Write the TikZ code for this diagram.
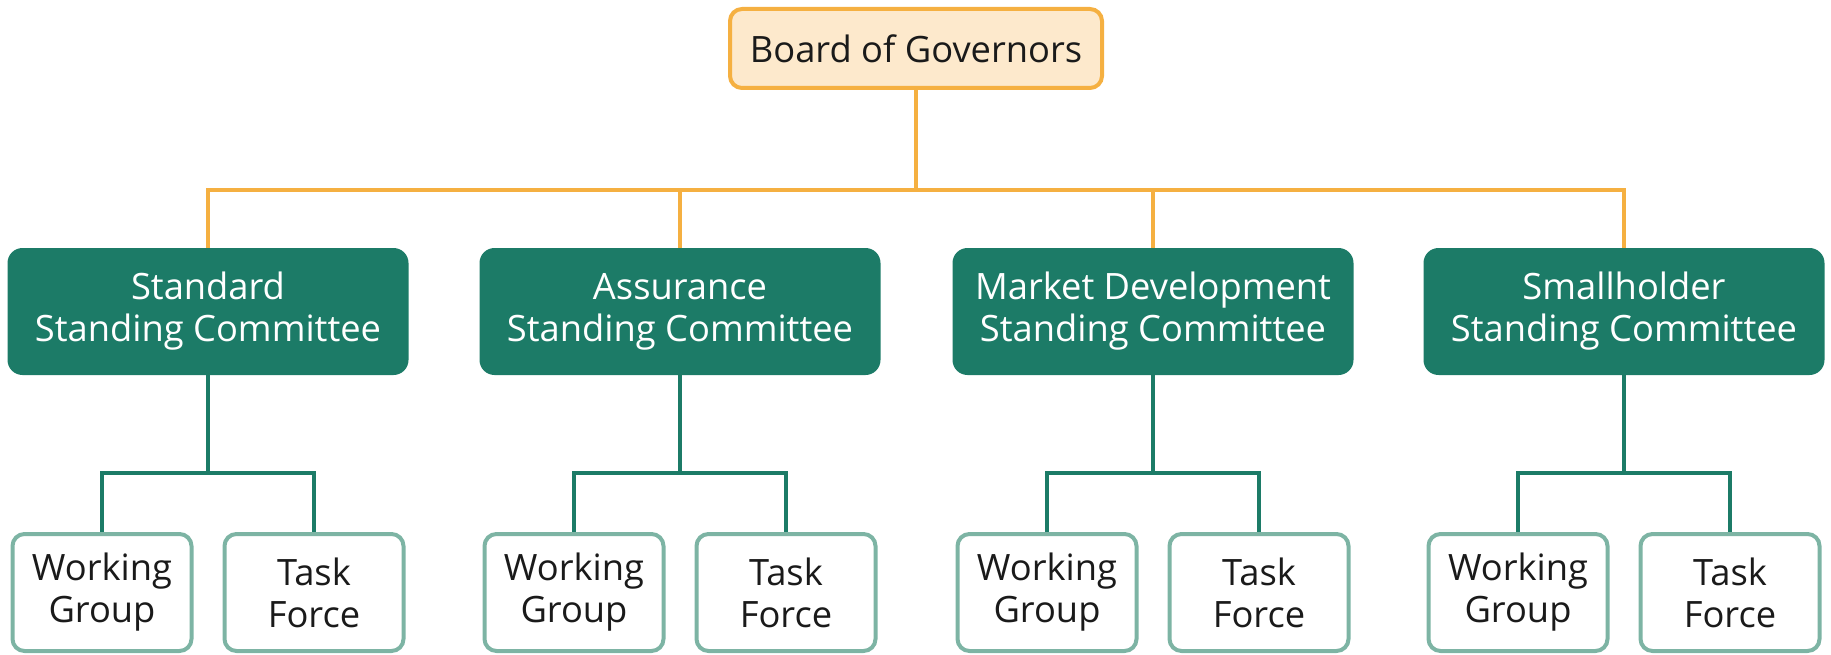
\documentclass[tikz,border=0pt]{standalone}
\usepackage{fontspec}
\setmainfont{Open Sans}
\definecolor{govfill}{HTML}{FDE9CC}
\definecolor{govline}{HTML}{F5B041}
\definecolor{comfill}{HTML}{1C7B67}
\definecolor{grpline}{HTML}{7DB4A4}
\definecolor{textdark}{HTML}{1A1A1A}

\tikzstyle{board} = [draw=govline, fill=govfill, line width=4pt, rounded corners=12pt,
    minimum width=372pt, minimum height=79pt, text=textdark, font=\fontsize{36.3}{42}\selectfont]
\tikzstyle{committee} = [fill=comfill, rounded corners=15pt, minimum width=401pt,
    minimum height=127pt, text=white, align=center, font=\fontsize{36.3}{42}\selectfont]
\tikzstyle{group} = [draw=grpline, fill=white, line width=4pt, rounded corners=12pt,
    minimum width=179pt, minimum height=117pt, text=textdark, align=center,
    font=\fontsize{36.3}{42}\selectfont]
\tikzstyle{topedge} = [draw=govline, line width=4pt]
\tikzstyle{subedge} = [draw=comfill, line width=4pt]

\begin{document}
\begin{tikzpicture}[x=1pt, y=-1pt]
\useasboundingbox (0,0) rectangle (1831,655);

\node[board] (gov) at (916,48.5) {Board of Governors};

\node[committee] (std) at (208,311.5) {Standard\\Standing Committee};
\node[committee] (asr) at (680,311.5) {Assurance\\Standing Committee};
\node[committee] (mkt) at (1153,311.5) {Market Development\\Standing Committee};
\node[committee] (sml) at (1624,311.5) {Smallholder\\Standing Committee};

\node[group] (stdwg) at (102,592.5) {Working\\Group};
\node[group] (stdtf) at (314,592.5) {Task\\Force};
\node[group] (asrwg) at (574,592.5) {Working\\Group};
\node[group] (asrtf) at (786,592.5) {Task\\Force};
\node[group] (mktwg) at (1047,592.5) {Working\\Group};
\node[group] (mkttf) at (1259,592.5) {Task\\Force};
\node[group] (smlwg) at (1518,592.5) {Working\\Group};
\node[group] (smltf) at (1730,592.5) {Task\\Force};

% board to committees
\draw[topedge] (gov.south) -- ++(0,100) -| (std.north);
\draw[topedge] (gov.south) -- ++(0,100) -| (asr.north);
\draw[topedge] (gov.south) -- ++(0,100) -| (mkt.north);
\draw[topedge] (gov.south) -- ++(0,100) -| (sml.north);

% committees to groups
\draw[subedge] (stdwg.north) |- ++(106,-59) -| (stdtf.north);
\draw[subedge] (std.south) -- ++(0,98);
\draw[subedge] (asrwg.north) |- ++(106,-59) -| (asrtf.north);
\draw[subedge] (asr.south) -- ++(0,98);
\draw[subedge] (mktwg.north) |- ++(106,-59) -| (mkttf.north);
\draw[subedge] (mkt.south) -- ++(0,98);
\draw[subedge] (smlwg.north) |- ++(106,-59) -| (smltf.north);
\draw[subedge] (sml.south) -- ++(0,98);
\end{tikzpicture}
\end{document}
